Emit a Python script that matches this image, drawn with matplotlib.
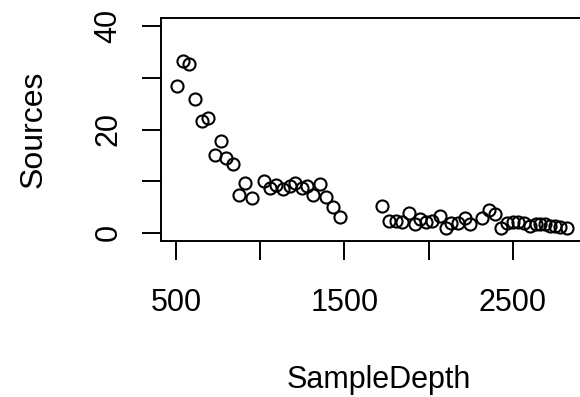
import matplotlib
matplotlib.use("Agg")
import matplotlib.pyplot as plt

# values
sample_depth = [503, 538, 578, 613, 654, 688, 729, 764, 798, 839, 874, 908, 949,
                1019, 1059, 1094, 1135, 1175, 1204, 1245, 1279, 1314, 1355, 1389,
                1430, 1471,
                1725, 1766, 1807, 1841, 1882, 1917, 1951, 1986, 2021, 2068, 2102,
                2131, 2172, 2218, 2247, 2317, 2357, 2392, 2427, 2467, 2502, 2531,
                2566, 2600, 2635, 2664, 2693, 2722, 2751, 2780, 2821]
sources = [28.5, 33.2, 32.6, 26.0, 21.7, 22.3, 15.1, 17.7, 14.4, 13.4, 7.4, 9.7, 6.8,
           10.1, 8.7, 9.3, 8.5, 9.1, 9.7, 8.7, 9.1, 7.4, 9.5, 7.0,
           4.9, 3.1,
           5.2, 2.3, 2.3, 2.1, 3.9, 1.6, 2.7, 2.1, 2.3, 3.3, 1.0,
           1.9, 1.9, 2.9, 1.7, 2.9, 4.5, 3.7, 1.0, 1.9, 2.1, 2.1,
           1.9, 1.4, 1.7, 1.7, 1.6, 1.4, 1.4, 1.2, 1.0]

x_ticks = [500, 1000, 1500, 2000, 2500, 3000]
x_labels = ["500", "", "1500", "", "2500", ""]
y_ticks = [0, 10, 20, 30, 40]
y_labels = ["0", "", "20", "", "40"]

plt.rcParams.update({
    "font.family": ["Liberation Sans", "DejaVu Sans"],
    "font.size": 22,
})

W, H = 580, 397
fig = plt.figure(figsize=(W / 100, H / 100), dpi=100)
# plot box: left 161 px, top 18 px, bottom 241 px; right edge runs past the image
ax = fig.add_axes([161 / W, (H - 241) / H, 436 / W, 223 / H])

ax.plot(sample_depth, sources, "o", mfc="none", mec="black", ms=8.7, mew=1.5,
        clip_on=False)
ax.set_xlim(410, 2936)
ax.set_ylim(-1.6, 41.6)

ax.set_xticks(x_ticks)
ax.set_xticklabels(x_labels)
ax.set_yticks(y_ticks)
ax.set_yticklabels(y_labels, rotation=90, va="center")

for s in ax.spines.values():
    s.set_linewidth(1.4)
ax.tick_params(direction="out", length=13.7, width=1.4, labelsize=22)
ax.tick_params(axis="x", pad=20)
ax.tick_params(axis="y", pad=13.4)

ax.set_xlabel("SampleDepth", fontsize=22)
ax.set_ylabel("Sources", fontsize=23)
ax.xaxis.set_label_coords(0.5, -0.556)
ax.yaxis.set_label_coords(-0.2576, 0.5)

fig.savefig("out.png", dpi=100)
